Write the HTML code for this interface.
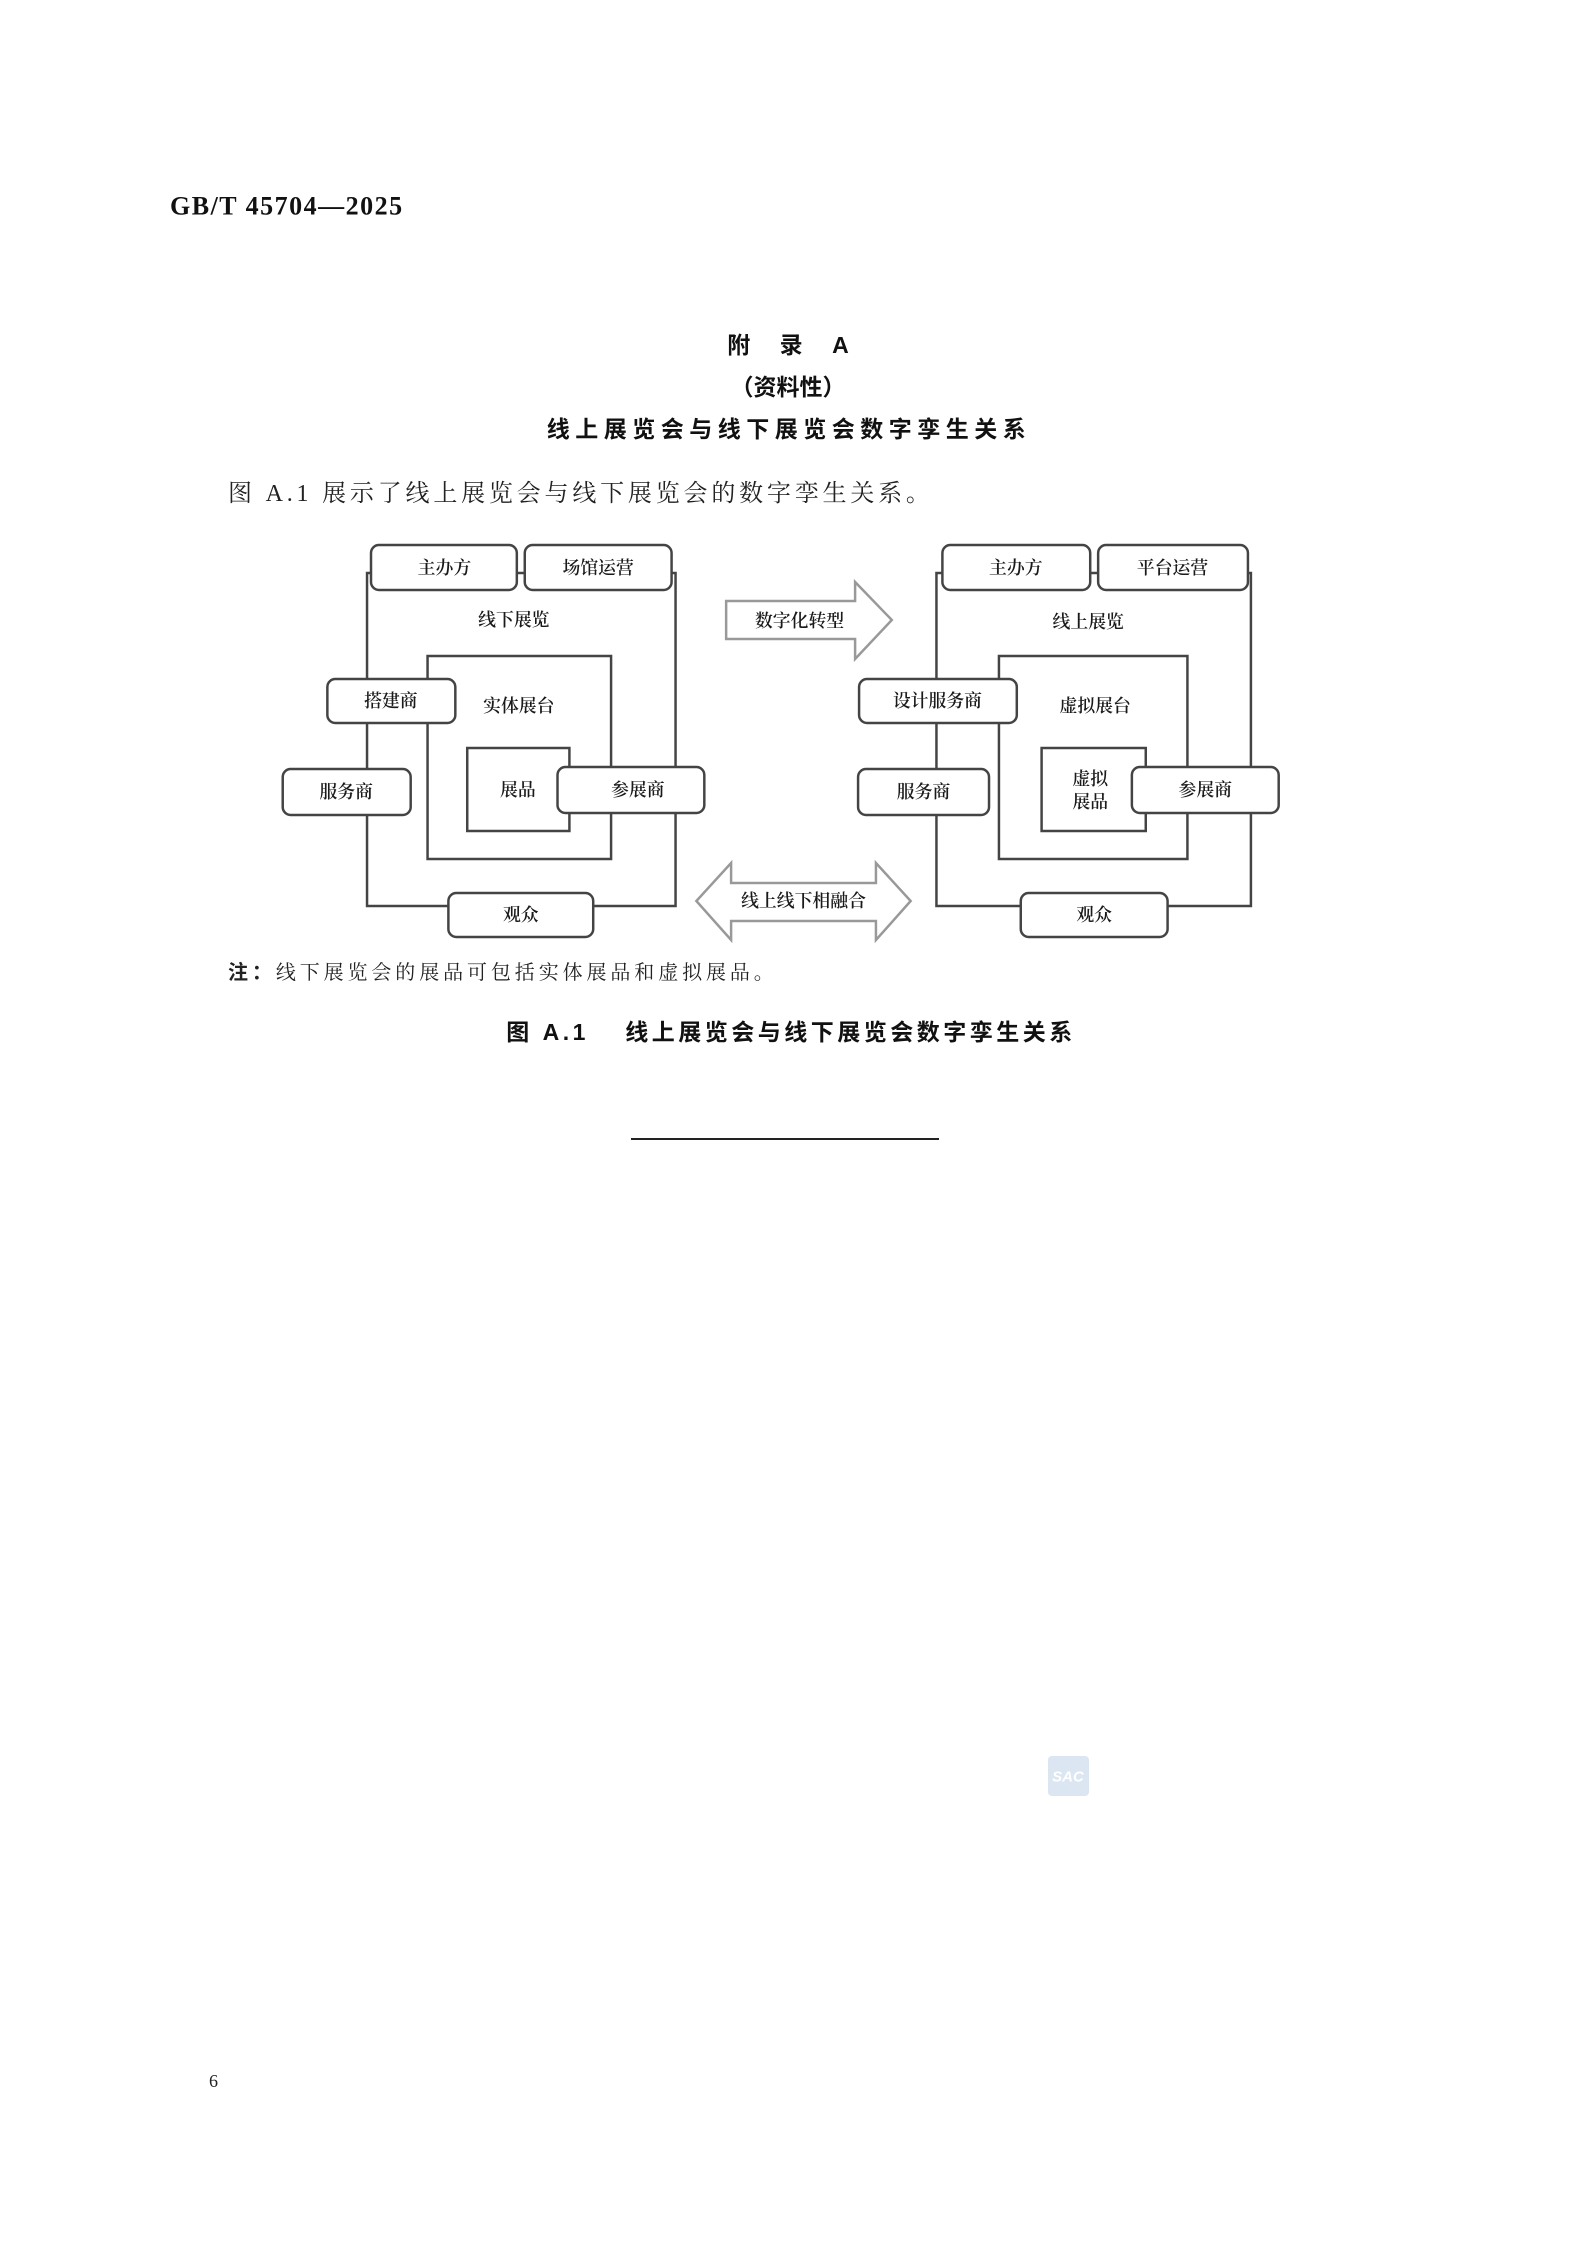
<!DOCTYPE html>
<html><head><meta charset="utf-8"><style>
html,body{margin:0;padding:0;background:#fff;}
body{width:1588px;height:2245px;position:relative;overflow:hidden;}
svg{position:absolute;left:0;top:0;}
</style></head><body>
<svg width="1588" height="2245" viewBox="0 0 1588 2245" xmlns="http://www.w3.org/2000/svg">
<text x="170" y="206" font-size="26" font-weight="bold" letter-spacing="1.5" dominant-baseline="central" fill="#111" font-family="'Liberation Serif',serif">GB/T 45704—2025</text>
<g font-family="'Liberation Sans','Noto Sans CJK SC',sans-serif" font-weight="bold" fill="#111" text-anchor="middle" dominant-baseline="central">
<text x="788" y="345" font-size="23">附　 录　 A</text>
<text x="788" y="387" font-size="23">（资料性）</text>
<text x="789" y="429" font-size="23" letter-spacing="5.5">线上展览会与线下展览会数字孪生关系</text>
</g>
<text x="228" y="494" font-size="24" letter-spacing="3.8" dominant-baseline="central" fill="#222" font-family="'Liberation Serif','Noto Serif CJK SC',serif">图 A.1 展示了线上展览会与线下展览会的数字孪生关系。</text>

<g transform="matrix(0.992,0,0,1,0,0)">
<!-- Left diagram -->
<g stroke="#444" stroke-width="2.5" fill="none">
<rect x="370" y="573" width="311" height="333"/>
<rect x="431" y="656" width="185" height="203"/>
<rect x="471" y="748" width="103" height="83"/>
</g>
<g stroke="#444" stroke-width="2.5" fill="#fff">
<rect x="374" y="545" width="147" height="45" rx="8"/>
<rect x="529" y="545" width="148" height="45" rx="8"/>
<rect x="330" y="679" width="129" height="44" rx="8"/>
<rect x="285" y="769" width="129" height="46" rx="8"/>
<rect x="562" y="767" width="148" height="46" rx="8"/>
<rect x="452" y="893" width="146" height="44" rx="8"/>
</g>
<!-- Right diagram -->
<g stroke="#444" stroke-width="2.5" fill="none">
<rect x="944" y="573" width="317" height="333"/>
<rect x="1007" y="656" width="190" height="203"/>
<rect x="1050" y="748" width="105" height="83"/>
</g>
<g stroke="#444" stroke-width="2.5" fill="#fff">
<rect x="950" y="545" width="149" height="45" rx="8"/>
<rect x="1107" y="545" width="151" height="45" rx="8"/>
<rect x="866" y="679" width="159" height="44" rx="8"/>
<rect x="865" y="769" width="132" height="46" rx="8"/>
<rect x="1141" y="767" width="148" height="46" rx="8"/>
<rect x="1029" y="893" width="148" height="44" rx="8"/>
</g>
<!-- Arrows -->
<g stroke="#999" stroke-width="2.5" fill="#fff">
<polygon points="732,601 862,601 862,582 899,620 862,659 862,639 732,639"/>
<polygon points="702,901 737,863 737,883 883,883 883,863 918,901 883,940 883,921 737,921 737,940"/>
</g>
<g font-family="'Liberation Serif','Noto Serif CJK SC',serif" font-weight="600" font-size="18" fill="#1a1a1a" text-anchor="middle" dominant-baseline="central">
<text x="448" y="568">主办方</text>
<text x="603" y="568">场馆运营</text>
<text x="518" y="620">线下展览</text>
<text x="523" y="706">实体展台</text>
<text x="394" y="701">搭建商</text>
<text x="349" y="792">服务商</text>
<text x="522" y="790">展品</text>
<text x="643" y="790">参展商</text>
<text x="525" y="915">观众</text>

<text x="1024" y="568">主办方</text>
<text x="1182" y="568">平台运营</text>
<text x="1097" y="622">线上展览</text>
<text x="1104" y="706">虚拟展台</text>
<text x="945" y="701">设计服务商</text>
<text x="931" y="792">服务商</text>
<text x="1099" y="779">虚拟</text>
<text x="1099" y="802">展品</text>
<text x="1215" y="790">参展商</text>
<text x="1103" y="915">观众</text>

<text x="806" y="621">数字化转型</text>
<text x="810" y="901">线上线下相融合</text>
</g>
</g>

<text x="228" y="973" font-size="20" letter-spacing="3.9" dominant-baseline="central" fill="#222" font-family="'Liberation Serif','Noto Serif CJK SC',serif"><tspan font-weight="bold" font-family="'Liberation Sans','Noto Sans CJK SC',sans-serif">注：</tspan>线下展览会的展品可包括实体展品和虚拟展品。</text>

<text x="791" y="1032" font-size="23" font-weight="bold" text-anchor="middle" dominant-baseline="central" fill="#111" font-family="'Liberation Sans','Noto Sans CJK SC',sans-serif" letter-spacing="3.5">图 A.1　 线上展览会与线下展览会数字孪生关系</text>

<line x1="631" y1="1139" x2="939" y2="1139" stroke="#222" stroke-width="2"/>

<rect x="1048" y="1756" width="41" height="40" rx="4" fill="#dbe6f2"/>
<text x="1068" y="1777" font-size="15" font-style="italic" font-weight="bold" text-anchor="middle" dominant-baseline="central" fill="#fff" font-family="'Liberation Sans',sans-serif">SAC</text>

<text x="209" y="2081" font-size="18" dominant-baseline="central" fill="#222" font-family="'Liberation Serif',serif">6</text>
</svg>
</body></html>
